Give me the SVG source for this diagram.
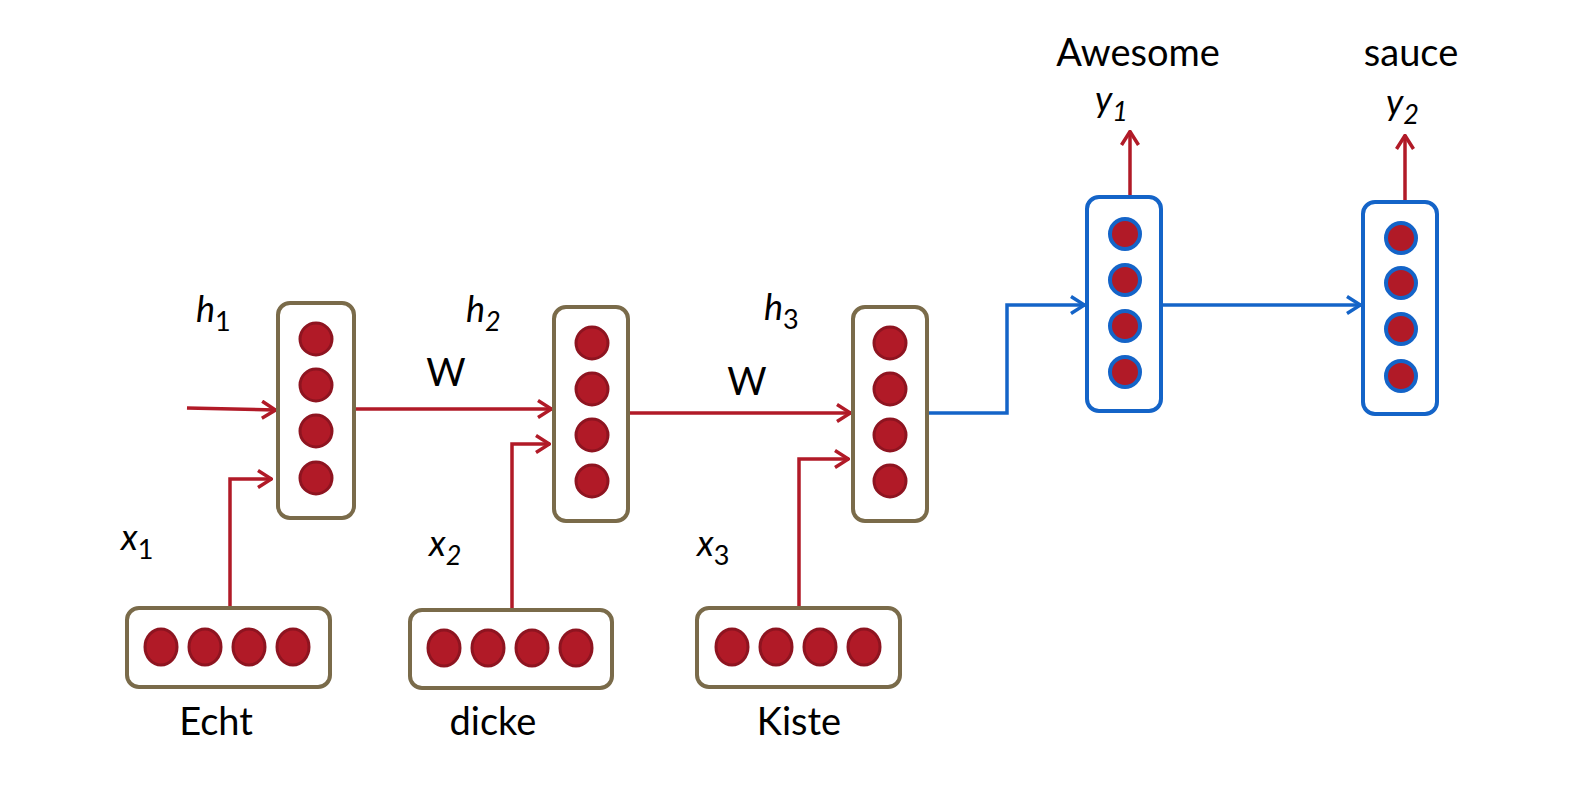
<svg xmlns="http://www.w3.org/2000/svg" width="1578" height="801" viewBox="0 0 1578 801">
<style>
.box{fill:#fff;stroke:#7a6b4a;stroke-width:4}
.bbox{fill:#fff;stroke:#1464c8;stroke-width:4}
.n{fill:#b11a27;stroke:#8e1420;stroke-width:3}
.bn{fill:#b11a27;stroke:#1464c8;stroke-width:4}
.r{fill:none;stroke:#b11a27;stroke-width:3.5}
.b{fill:none;stroke:#1464c8;stroke-width:3.5}
text{font-family:Lato,"Liberation Sans",Arial,sans-serif;fill:#000}
.lbl{font-size:38px;text-anchor:middle}
.it{font-size:36px;font-style:italic}
.sub{font-size:27px}
</style>
<defs>
<marker id="ar" viewBox="0 0 16 20" refX="15" refY="10" markerWidth="16" markerHeight="20" markerUnits="userSpaceOnUse" orient="auto">
<path d="M1,1.5 L14.5,10 L1,18.5" fill="none" stroke="#b11a27" stroke-width="3.5"/>
</marker>
<marker id="ab" viewBox="0 0 16 20" refX="15" refY="10" markerWidth="16" markerHeight="20" markerUnits="userSpaceOnUse" orient="auto">
<path d="M1,1.5 L14.5,10 L1,18.5" fill="none" stroke="#1464c8" stroke-width="3.5"/>
</marker>
</defs>
<rect width="1578" height="801" fill="#fff"/>
<g id="connectors">
<path class="r" d="M187,408 L276,410" marker-end="url(#ar)"/>
<path class="r" d="M230,607 V479 H272" marker-end="url(#ar)"/>
<path class="r" d="M354,409 H552" marker-end="url(#ar)"/>
<path class="r" d="M512,608 V444 H550" marker-end="url(#ar)"/>
<path class="r" d="M628,413 H851" marker-end="url(#ar)"/>
<path class="r" d="M799,607 V459 H849" marker-end="url(#ar)"/>
<path class="b" d="M927,413 H1007 V305 H1085" marker-end="url(#ab)"/>
<path class="b" d="M1161,305 H1361" marker-end="url(#ab)"/>
<path class="r" d="M1130,197 V131" marker-end="url(#ar)"/>
<path class="r" d="M1405,202 V135" marker-end="url(#ar)"/>
</g>
<g id="h1">
<rect class="box" x="278" y="303" width="76" height="215" rx="12"/>
<circle class="n" cx="316" cy="339" r="16"/><circle class="n" cx="316" cy="385" r="16"/><circle class="n" cx="316" cy="431" r="16"/><circle class="n" cx="316" cy="478" r="16"/>
<text x="196" y="322" class="it">h<tspan class="sub" dy="9" font-style="normal">1</tspan></text>
</g>
<g id="h2">
<rect class="box" x="554" y="307" width="74" height="214" rx="12"/>
<circle class="n" cx="592" cy="343" r="16"/><circle class="n" cx="592" cy="389" r="16"/><circle class="n" cx="592" cy="435" r="16"/><circle class="n" cx="592" cy="481" r="16"/>
<text x="466" y="322" class="it">h<tspan class="sub" dy="9">2</tspan></text>
</g>
<g id="h3">
<rect class="box" x="853" y="307" width="74" height="214" rx="12"/>
<circle class="n" cx="890" cy="343" r="16"/><circle class="n" cx="890" cy="389" r="16"/><circle class="n" cx="890" cy="435" r="16"/><circle class="n" cx="890" cy="481" r="16"/>
<text x="764" y="320" class="it">h<tspan class="sub" dy="9" font-style="normal">3</tspan></text>
</g>
<g id="wlabels">
<text x="446" y="386" class="lbl">W</text>
<text x="747" y="395" class="lbl">W</text>
</g>
<g id="x1">
<rect class="box" x="127" y="608" width="203" height="79" rx="12"/>
<ellipse class="n" cx="161" cy="647" rx="16" ry="18"/><ellipse class="n" cx="205" cy="647" rx="16" ry="18"/><ellipse class="n" cx="249" cy="647" rx="16" ry="18"/><ellipse class="n" cx="293" cy="647" rx="16" ry="18"/>
<text x="121" y="550" class="it">x<tspan class="sub" dy="9" font-style="normal">1</tspan></text>
<text x="216" y="735" class="lbl">Echt</text>
</g>
<g id="x2">
<rect class="box" x="410" y="610" width="202" height="78" rx="12"/>
<ellipse class="n" cx="444" cy="648" rx="16" ry="18"/><ellipse class="n" cx="488" cy="648" rx="16" ry="18"/><ellipse class="n" cx="532" cy="648" rx="16" ry="18"/><ellipse class="n" cx="576" cy="648" rx="16" ry="18"/>
<text x="429" y="556" class="it">x<tspan class="sub" dy="9">2</tspan></text>
<text x="493" y="735" class="lbl">dicke</text>
</g>
<g id="x3">
<rect class="box" x="697" y="608" width="203" height="79" rx="12"/>
<ellipse class="n" cx="732" cy="647" rx="16" ry="18"/><ellipse class="n" cx="776" cy="647" rx="16" ry="18"/><ellipse class="n" cx="820" cy="647" rx="16" ry="18"/><ellipse class="n" cx="864" cy="647" rx="16" ry="18"/>
<text x="697" y="556" class="it">x<tspan class="sub" dy="9" font-style="normal">3</tspan></text>
<text x="799" y="735" class="lbl">Kiste</text>
</g>
<g id="y1">
<rect class="bbox" x="1087" y="197" width="74" height="214" rx="12"/>
<circle class="bn" cx="1125" cy="234" r="15"/><circle class="bn" cx="1125" cy="280" r="15"/><circle class="bn" cx="1125" cy="326" r="15"/><circle class="bn" cx="1125" cy="372" r="15"/>
<text x="1095" y="112" class="it">y<tspan class="sub" dy="9">1</tspan></text>
<text x="1138" y="66" class="lbl">Awesome</text>
</g>
<g id="y2">
<rect class="bbox" x="1363" y="202" width="74" height="212" rx="12"/>
<circle class="bn" cx="1401" cy="238" r="15"/><circle class="bn" cx="1401" cy="283" r="15"/><circle class="bn" cx="1401" cy="329" r="15"/><circle class="bn" cx="1401" cy="376" r="15"/>
<text x="1386" y="115" class="it">y<tspan class="sub" dy="9">2</tspan></text>
<text x="1411" y="66" class="lbl">sauce</text>
</g>
</svg>
